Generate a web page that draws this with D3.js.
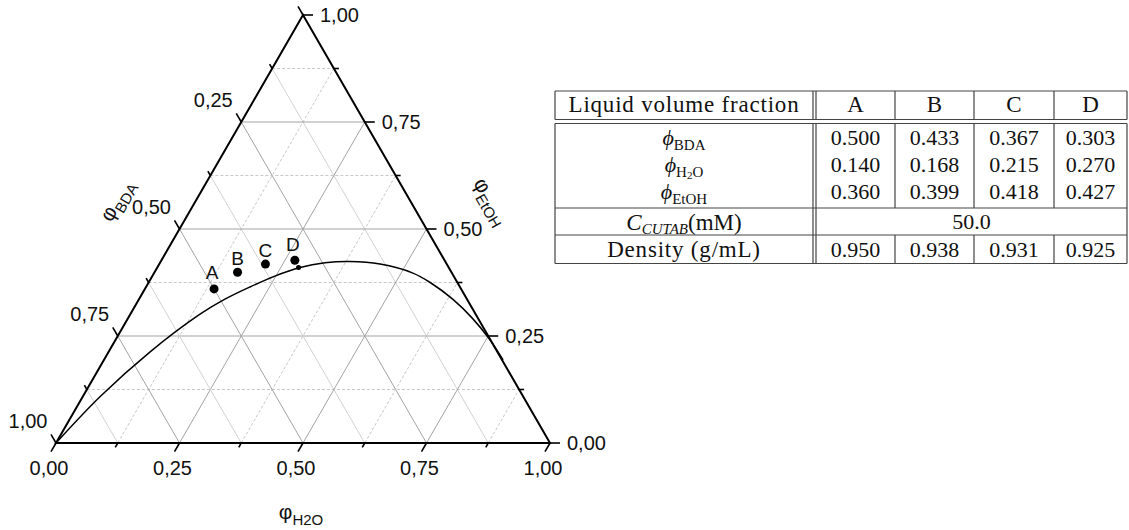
<!DOCTYPE html>
<html>
<head>
<meta charset="utf-8">
<title>Ternary BDA / H2O / EtOH</title>
<script src="https://cdn.jsdelivr.net/npm/d3@7"></script>
<style>
body { margin: 0; background: #fff; }
.tern text { font-family: "Liberation Sans", Arial, sans-serif; fill: #111; }
.tab text { font-family: "Liberation Serif", "DejaVu Serif", serif; fill: #111; }
.frame { fill: none; stroke: #000; stroke-width: 2px; stroke-linejoin: miter; }
.tick { stroke: #000; stroke-width: 1.6px; }
.gridMajor { stroke: #a3a3a3; stroke-width: 1px; }
.gridMinor { stroke: #d2d2d2; stroke-width: 1px; }
.gridDash { stroke: #c8c8c8; stroke-width: 1px; stroke-dasharray: 3,2; }
.binodal { fill: none; stroke: #000; stroke-width: 1.5px; }
.tline { stroke: #444; stroke-width: 1.2px; }
</style>
</head>
<body>
<script>

// samples A-D (volume fractions)
var pointNames = ["A", "B", "C", "D"];
var phiBDA  = [0.500, 0.433, 0.367, 0.303];
var phiH2O  = [0.140, 0.168, 0.215, 0.270];
var phiEtOH = [0.360, 0.399, 0.418, 0.427];
var density = [0.950, 0.938, 0.931, 0.925];
var cCTAB = "50.0";

// binodal curve (H2O, EtOH)
var curveH2O  = [0.000, 0.035, 0.084, 0.141, 0.174, 0.211, 0.248, 0.289, 0.334, 0.383, 0.447, 0.524, 0.570, 0.635, 0.699, 0.758, 0.808];
var curveEtOH = [0.000, 0.108, 0.213, 0.301, 0.336, 0.365, 0.390, 0.410, 0.421, 0.424, 0.418, 0.397, 0.375, 0.336, 0.290, 0.241, 0.194];
var onCurve = {h2o: 0.286, etoh: 0.410};

var majorTicks = [0, 0.25, 0.5, 0.75, 1];
var tickLabels = ["0,00", "0,25", "0,50", "0,75", "1,00"];
var minorTicks = [0.125, 0.375, 0.625, 0.875];
var gridLevels = [0.125, 0.25, 0.375, 0.5, 0.625, 0.75, 0.875];

var svg = d3.select("body").append("svg")
    .attr("width", 1129)
    .attr("height", 530);

var x = d3.scaleLinear().domain([0, 1]).range([56, 550]);
var y = d3.scaleLinear().domain([0, 1]).range([443, 15]);

function px(h, e) { return x(h + e / 2); }
function py(h, e) { return y(e); }

var g = svg.append("g").attr("class", "tern");

function isMajor(v) { return Math.abs(v * 4 - Math.round(v * 4)) < 1e-6; }

// grid
gridLevels.forEach(function(v) {
  var maj = isMajor(v);
  // constant EtOH (horizontal)
  g.append("line").attr("class", maj ? "gridMajor" : "gridDash")
    .attr("x1", px(0, v)).attr("y1", py(0, v))
    .attr("x2", px(1 - v, v)).attr("y2", py(1 - v, v));
  // constant H2O
  g.append("line").attr("class", maj ? "gridMajor" : "gridDash")
    .attr("x1", px(v, 0)).attr("y1", py(v, 0))
    .attr("x2", px(v, 1 - v)).attr("y2", py(v, 1 - v));
  // constant BDA
  g.append("line").attr("class", maj ? "gridMajor" : "gridMinor")
    .attr("x1", px(1 - v, 0)).attr("y1", py(1 - v, 0))
    .attr("x2", px(0, 1 - v)).attr("y2", py(0, 1 - v));
});

// binodal
var curveData = curveH2O.map(function(h, i) { return {h: h, e: curveEtOH[i]}; });
var line = d3.line()
  .x(function(d) { return px(d.h, d.e); })
  .y(function(d) { return py(d.h, d.e); })
  .curve(d3.curveCatmullRom);
g.append("path").datum(curveData).attr("class", "binodal").attr("d", line);

// frame
g.append("path").attr("class", "frame")
  .attr("d", "M" + px(0, 0) + "," + py(0, 0) + "L" + px(1, 0) + "," + py(1, 0) + "L" + px(0, 1) + "," + py(0, 1) + "Z");

var c60 = 0.5, s60 = Math.sqrt(3) / 2;

function ticks(list, len) {
  list.forEach(function(t) {
    // bottom: H2O
    var bx = px(t, 0), by = py(t, 0);
    g.append("line").attr("class", "tick").attr("x1", bx).attr("y1", by)
      .attr("x2", bx - c60 * len).attr("y2", by + s60 * len);
    // left: BDA = t
    var lx = px(0, 1 - t), ly = py(0, 1 - t);
    g.append("line").attr("class", "tick").attr("x1", lx).attr("y1", ly)
      .attr("x2", lx - c60 * len).attr("y2", ly - s60 * len);
    // right: EtOH = t
    var rx = px(1 - t, t), ry = py(1 - t, t);
    g.append("line").attr("class", "tick").attr("x1", rx).attr("y1", ry)
      .attr("x2", rx + len).attr("y2", ry);
  });
}
ticks(majorTicks, 10);
ticks(minorTicks, 5);

majorTicks.forEach(function(t, i) {
  g.append("text").attr("x", px(t, 0) - 7).attr("y", 468).attr("dy", "0.35em")
    .attr("text-anchor", "middle").style("font-size", "20px").text(tickLabels[i]);
  if (t > 0) {
    g.append("text").attr("x", px(0, 1 - t) - 28).attr("y", py(0, 1 - t) - 22).attr("dy", "0.35em")
      .attr("text-anchor", "middle").style("font-size", "20px").text(tickLabels[i]);
  }
  g.append("text").attr("x", px(1 - t, t) + 17).attr("y", py(1 - t, t)).attr("dy", "0.35em")
    .attr("text-anchor", "start").style("font-size", "20px").text(tickLabels[i]);
});

// axis titles
function axisTitle(cx, cy, rot, sub) {
  var t = g.append("text").attr("transform", "translate(" + cx + "," + cy + ") rotate(" + rot + ")")
    .attr("text-anchor", "middle").attr("dy", "0.35em").style("font-size", "21px");
  t.append("tspan").text("\u03C6");
  t.append("tspan").attr("dy", 6).style("font-size", "15px").text(sub);
}
axisTitle(301, 512, 0, "H2O");
axisTitle(116, 200, -60, "BDA");
axisTitle(492, 201, 60, "EtOH");

// sample points
var labOff = [[-2, -17], [0, -14], [0, -14], [-2, -16]];
pointNames.forEach(function(n, i) {
  var cx = px(phiH2O[i], phiEtOH[i]), cy = py(phiH2O[i], phiEtOH[i]);
  g.append("circle").attr("cx", cx).attr("cy", cy).attr("r", 4.5).attr("fill", "#000");
  g.append("text").attr("x", cx + labOff[i][0]).attr("y", cy + labOff[i][1]).attr("dy", "0.35em")
    .attr("text-anchor", "middle").style("font-size", "19px").text(n);
});
g.append("circle").attr("cx", px(onCurve.h2o, onCurve.etoh)).attr("cy", py(onCurve.h2o, onCurve.etoh))
  .attr("r", 2.5).attr("fill", "#000");

// ---- table ----
var tb = svg.append("g").attr("class", "tab");
var colX = [555, 813, 816, 895, 974, 1054, 1127];
var rowY = {top: 91, hb: 119.5, vt: 123.5, v3: 208, cu: 235, bot: 263.5};
var fs = 22;

function hl(x1, x2, yy) { tb.append("line").attr("class", "tline").attr("x1", x1).attr("x2", x2).attr("y1", yy).attr("y2", yy); }
function vl(xx, y1, y2) { tb.append("line").attr("class", "tline").attr("x1", xx).attr("x2", xx).attr("y1", y1).attr("y2", y2); }

hl(colX[0], colX[6], rowY.top);
hl(colX[0], colX[6], rowY.hb);
hl(colX[0], colX[6], rowY.vt);
hl(colX[0], colX[6], rowY.v3);
hl(colX[0], colX[6], rowY.cu);
hl(colX[0], colX[6], rowY.bot);

[colX[0], colX[1], colX[2], colX[6]].forEach(function(xx) {
  vl(xx, rowY.top, rowY.hb);
  vl(xx, rowY.vt, rowY.bot);
});
[colX[3], colX[4], colX[5]].forEach(function(xx) {
  vl(xx, rowY.top, rowY.hb);
  vl(xx, rowY.vt, rowY.v3);
  vl(xx, rowY.cu, rowY.bot);
});

function cell(cx, cy, txt) {
  return tb.append("text").attr("x", cx).attr("y", cy).attr("dy", "0.35em")
    .attr("text-anchor", "middle").style("font-size", fs + "px").text(txt);
}
var c0 = (colX[0] + colX[1]) / 2;
var valCx = [855.5, 934.5, 1014, 1090.5];

cell(c0, 104, "Liquid volume fraction").style("font-size", "23px").style("letter-spacing", "0.8px");
pointNames.forEach(function(n, i) { cell(valCx[i], 104, n).style("font-size", "23px"); });

var rowsY = [137, 164.5, 191.5];
var series = [phiBDA, phiH2O, phiEtOH];
series.forEach(function(s, r) {
  s.forEach(function(v, i) { cell(valCx[i], rowsY[r], v.toFixed(3)); });
});

function phiLabel(cy, parts) {
  var t = tb.append("text").attr("x", c0).attr("y", cy).attr("dy", "0.35em")
    .attr("text-anchor", "middle").style("font-size", fs + "px");
  t.append("tspan").style("font-style", "italic").text("\u03D5");
  parts.forEach(function(p) {
    t.append("tspan").style("font-size", p[1] + "px").attr("dy", p[2]).text(p[0]);
  });
}
phiLabel(rowsY[0], [["BDA", 15, 5]]);
phiLabel(rowsY[1], [["H", 15, 5], ["2", 11, 2], ["O", 15, -2]]);
phiLabel(rowsY[2], [["EtOH", 15, 5]]);

var ct = tb.append("text").attr("x", c0).attr("y", 221.5).attr("dy", "0.35em")
  .attr("text-anchor", "middle").style("font-size", "23px");
ct.append("tspan").style("font-style", "italic").text("C");
ct.append("tspan").style("font-style", "italic").style("font-size", "15px").attr("dy", 4).text("CUTAB");
ct.append("tspan").attr("dy", -4).text("(mM)");
cell((colX[2] + colX[6]) / 2, 221.5, cCTAB);

cell(c0, 249, "Density (g/mL)").style("font-size", "23px").style("letter-spacing", "0.8px");
density.forEach(function(v, i) { cell(valCx[i], 249, v.toFixed(3)); });

</script>
</body>
</html>
